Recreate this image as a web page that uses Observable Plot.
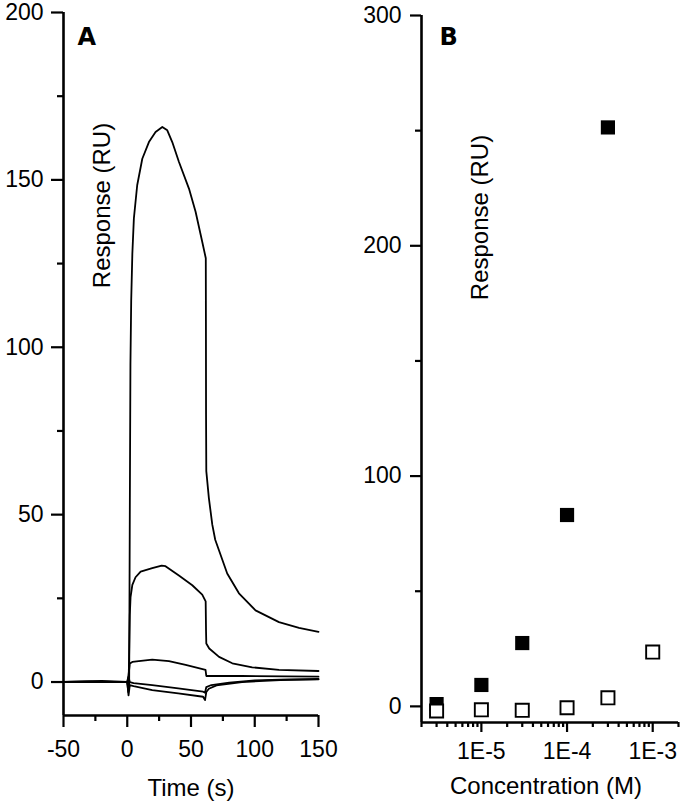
<!DOCTYPE html>
<html><head><meta charset="utf-8">
<script src="https://cdn.jsdelivr.net/npm/d3@7"></script>
<script src="https://cdn.jsdelivr.net/npm/@observablehq/plot@0.6"></script>
<style>
body{margin:0;background:#fff;}
#wrap{display:flex;width:680px;height:808px;overflow:hidden;}
#wrap svg{display:block;}
</style></head><body><div id="wrap"></div>
<script>
// ---------- Panel A : sensorgrams ----------
const timeDomain = [-50, 150];
const respDomainA = [-10, 200];
const xTicksA = [-50, 0, 50, 100, 150];
const xMinorA = [-25, 25, 75, 125];
const yTicksA = [0, 50, 100, 150, 200];
const yMinorA = [25, 75, 125, 175];

// [time (s), response (RU)]
const curve1 = [[-50,0],[-30,0.2],[-10,0],[0,0],[0.8,-3],[1.5,-1],[2,50],[2.5,95],[3.1,114],[4,128],[5.2,138.5],[7.8,148.4],[11.8,156.3],[17,161.3],[22.2,164.3],[27.5,165.8],[31.4,164.8],[35.3,161.3],[40.5,155.4],[48.4,147.4],[53.6,140.5],[58.8,131.5],[61.6,126.6],[61.7,108],[61.8,80],[62,63],[64,55],[66.7,47],[69,42.5],[72,39.3],[78.4,32.4],[87.6,26.5],[100.6,21.4],[119,17.9],[134.7,16.2],[150,15]];
const curve2 = [[-50,0],[0,0],[1,-2],[2,20],[2.6,25.4],[4,29],[6.5,31.3],[10.5,33],[19.6,34],[27,34.8],[30,34.6],[40.5,31.8],[51,28.9],[58.8,26.1],[61.5,24.1],[61.8,15],[62,11.5],[64.3,10],[72,7.5],[82.4,5.6],[98,4.4],[119,3.6],[150,3.3]];
const curve3 = [[-50,0],[0,0],[1,2],[2,5.5],[4,6],[9,6.25],[19.6,6.7],[32.7,6.25],[45.8,5.1],[61.4,3.6],[62,1.8],[90,1.8],[150,1.6]];
const curve4 = [[-50,0],[-20,0.3],[0,0],[1,1.5],[2,0],[5,-0.3],[19.6,-0.9],[40,-1.9],[59.5,-2.9],[61,-3.2],[62,-1.5],[66,-0.9],[80,-0.2],[100,0.5],[120,0.7],[150,0.9]];
const curve5 = [[-50,0],[0,0],[1,-4],[2,-0.9],[5,-1.2],[19.6,-2.4],[40,-3.4],[59.5,-4.4],[61,-5.4],[62,-3],[64,-2],[70,-1],[90,0],[120,0.6],[150,0.8]];

// ---------- Panel B : dose response ----------
const concFilled = [3e-6, 1e-5, 3e-5, 1e-4, 3e-4];
const respFilled = [1, 9.3, 27.5, 83.1, 251.4];
const concOpen = [3e-6, 1e-5, 3e-5, 1e-4, 3e-4, 1e-3];
const respOpen = [-2, -1.5, -1.7, -0.6, 3.7, 23.6];
const concDomain = [2e-6, 2e-3];
const respDomainB = [-7, 300];
const xTicksB = [1e-5, 1e-4, 1e-3];
const xTickLabelsB = ["1E-5", "1E-4", "1E-3"];
const yTicksB = [0, 100, 200, 300];
const yMinorB = [50, 150, 250];

const FONT = "'Liberation Sans', Arial, Helvetica, sans-serif";
const BOLDFONT = "'DejaVu Sans', Verdana, sans-serif";

const curves = [curve1, curve2, curve3, curve4, curve5];
const lineRows = curves.flatMap((c, i) => c.map(([t, v]) => ({t, v, id: i})));

const plotA = Plot.plot({
  width: 340, height: 808,
  marginLeft: 63, marginRight: 22, marginTop: 12, marginBottom: 93,
  style: {fontFamily: FONT, background: "white", color: "black"},
  x: {domain: timeDomain},
  y: {domain: respDomainA},
  marks: [
    Plot.axisX({ticks: xTicksA, tickSize: 12, tickPadding: 13, fontSize: 23, strokeWidth: 2.2, label: null, tickFormat: d => String(d)}),
    Plot.axisX({ticks: xMinorA, tickSize: 6, text: null, strokeWidth: 2.2, label: null}),
    Plot.axisY({ticks: yTicksA, tickSize: 12, tickPadding: 8, fontSize: 23, strokeWidth: 2.2, label: null}),
    Plot.axisY({ticks: yMinorA, tickSize: 6, text: null, strokeWidth: 2.2, label: null}),
    Plot.ruleX([timeDomain[0]], {y1: respDomainA[0], y2: respDomainA[1], strokeWidth: 2.6}),
    Plot.ruleY([respDomainA[0]], {x1: timeDomain[0], x2: timeDomain[1], strokeWidth: 2.6}),
    Plot.line(lineRows, {x: "t", y: "v", z: "id", stroke: "black", strokeWidth: 1.8, curve: "linear"}),
    Plot.text(["A"], {frameAnchor: "top-left", dx: 14, dy: 15, lineAnchor: "top", textAnchor: "start", fontSize: 24, fontWeight: "bold", fontFamily: BOLDFONT}),
    Plot.text(["Response (RU)"], {frameAnchor: "top-left", dx: 39, dy: 193, rotate: -90, textAnchor: "middle", lineAnchor: "middle", fontSize: 24}),
    Plot.text(["Time (s)"], {frameAnchor: "bottom", dy: 73, lineAnchor: "middle", fontSize: 24})
  ]
});

const minorLog = d3.scaleLog().domain(concDomain).ticks()
  .filter(t => Math.abs(Math.log10(t) - Math.round(Math.log10(t))) > 1e-6);

const plotB = Plot.plot({
  width: 340, height: 808,
  marginLeft: 81, marginRight: 2, marginTop: 15, marginBottom: 86,
  style: {fontFamily: FONT, background: "white", color: "black"},
  x: {type: "log", domain: concDomain},
  y: {domain: respDomainB},
  marks: [
    Plot.axisX({ticks: xTicksB, tickSize: 10, tickPadding: 10, fontSize: 23, strokeWidth: 2.2, label: null, tickFormat: d => xTickLabelsB[xTicksB.indexOf(d)]}),
    Plot.axisX({ticks: minorLog, tickSize: 5, text: null, strokeWidth: 2.2, label: null}),
    Plot.axisY({ticks: yTicksB, tickSize: 11, tickPadding: 9, fontSize: 23, strokeWidth: 2.2, label: null}),
    Plot.axisY({ticks: yMinorB, tickSize: 6, text: null, strokeWidth: 2.2, label: null}),
    Plot.ruleX([concDomain[0]], {y1: respDomainB[0], y2: respDomainB[1], strokeWidth: 2.6}),
    Plot.ruleY([respDomainB[0]], {x1: concDomain[0], x2: concDomain[1], strokeWidth: 2.6}),
    Plot.dot(concFilled.map((c, i) => ({c, r: respFilled[i]})), {x: "c", y: "r", symbol: "square", r: 8, fill: "black", stroke: "none"}),
    Plot.dot(concOpen.map((c, i) => ({c, r: respOpen[i]})), {x: "c", y: "r", symbol: "square", r: 7.4, fill: "white", stroke: "black", strokeWidth: 1.9}),
    Plot.text(["B"], {frameAnchor: "top-left", dx: 18, dy: 12, lineAnchor: "top", textAnchor: "start", fontSize: 24, fontWeight: "bold", fontFamily: BOLDFONT}),
    Plot.text(["Response (RU)"], {frameAnchor: "top-left", dx: 59, dy: 202, rotate: -90, textAnchor: "middle", lineAnchor: "middle", fontSize: 24}),
    Plot.text(["Concentration (M)"], {frameAnchor: "bottom", dx: -4, dy: 64, lineAnchor: "middle", fontSize: 24})
  ]
});

const wrap = document.getElementById("wrap");
wrap.appendChild(plotA);
wrap.appendChild(plotB);
</script>
</body></html>
